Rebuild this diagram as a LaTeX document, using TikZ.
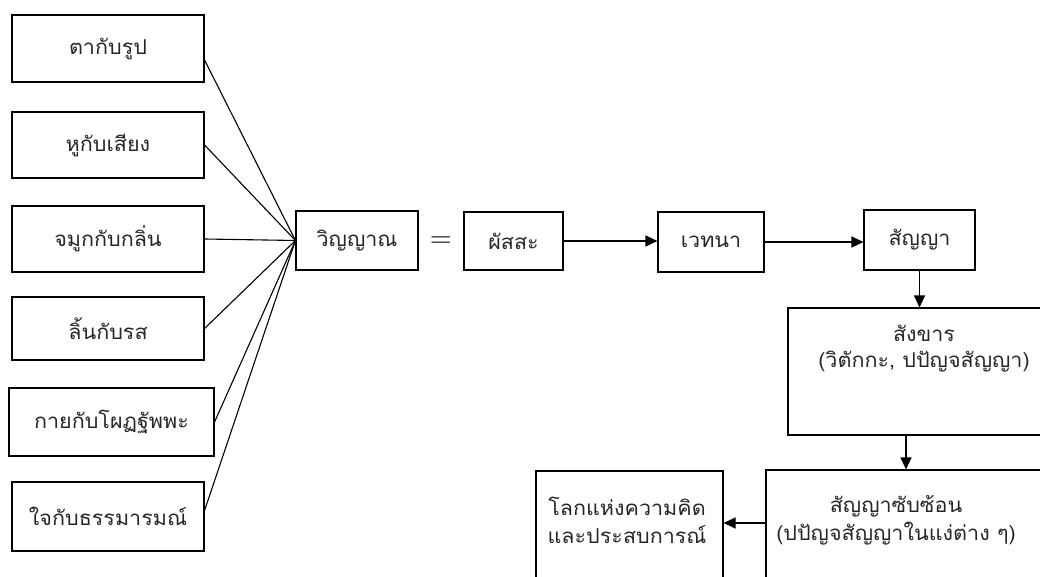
\documentclass[tikz,border=0pt]{standalone}
\usepackage{fontspec}
\newfontfamily\thaifont[Script=Thai,FakeStretch=1.05]{Loma}
\usetikzlibrary{arrows.meta,calc}
\begin{document}
\begin{tikzpicture}[x=1pt,y=-1pt,
  box/.style={draw, line width=1.1pt, inner sep=0pt},
  lbl/.style={font=\thaifont\fontsize{20.5}{28}\selectfont, text=black!85, align=center, inner sep=0pt},
  link/.style={line width=1.1pt},
  arr/.style={line width=1.1pt, -{Triangle[length=12pt,width=11pt]}}]
\useasboundingbox (0,0) rectangle (1040,577);
\clip (0,0) rectangle (1040,577);
% left boxes
\node[box, minimum width=192, minimum height=67] (b1) at (108,48.5) {};
\node[lbl] (t1) at (b1.center) {ตากับรูป};
\node[box, minimum width=192, minimum height=66] (b2) at (108,145) {};
\node[lbl] (t2) at (b2.center) {หูกับเสียง};
\node[box, minimum width=192, minimum height=66] (b3) at (108,239) {};
\node[lbl] (t3) at (b3.center) {จมูกกับกลิ่น};
\node[box, minimum width=192, minimum height=63] (b4) at (108,328.5) {};
\node[lbl] (t4) at (b4.center) {ลิ้นกับรส};
\node[box, minimum width=205, minimum height=68] (b5) at (111.5,422) {};
\node[lbl] (t5) at (b5.center) {กายกับโผฏฐัพพะ};
\node[box, minimum width=192, minimum height=69] (b6) at (108,516.5) {};
\node[lbl] (t6) at (b6.center) {ใจกับธรรมารมณ์};
% top row
\node[box, minimum width=122, minimum height=59] (v) at (357,240.5) {};
\node[lbl] (vt) at (v.center) {วิญญาณ};
\node[font=\fontsize{30}{30}\selectfont, inner sep=0pt] (eq) at (441,242) {=};
\node[box, minimum width=99, minimum height=58] (ph) at (513.5,241) {};
\node[lbl] (pht) at (ph.center) {ผัสสะ};
\node[box, minimum width=106, minimum height=60] (ve) at (711,242) {};
\node[lbl] (vet) at (ve.center) {เวทนา};
\node[box, minimum width=111, minimum height=60] (sa) at (919.5,240) {};
\node[lbl] (sat) at (sa.center) {สัญญา};
% right column
\node[box, minimum width=262, minimum height=127] (sk) at (919,371.5) {};
\node[lbl, font=\thaifont\fontsize{20.5}{26}\selectfont] (skt) at (924,349) {สังขาร\\(วิตักกะ, ปปัญจสัญญา)};
\node[box, minimum width=284, minimum height=130] (ss) at (908,535) {};
\node[lbl] (sst) at (896,520) {สัญญาซับซ้อน\\(ปปัญจสัญญาในแง่ต่าง ๆ)};
\node[box, minimum width=187, minimum height=129] (lk) at (629.5,535.5) {};
\node[lbl] (lkt) at (627,520) {โลกแห่งความคิด\\และประสบการณ์};
% connectors
\draw[link] ([yshift=-11.5pt]b1.east) -- (v.west);
\draw[link] (b2.east) -- (v.west);
\draw[link] (b3.east) -- (v.west);
\draw[link] (b4.east) -- (v.west);
\draw[link] (b5.east) -- (v.west);
\draw[link] ([yshift=6pt]b6.east) -- (v.west);
\draw[arr] (ph.east) -- (ph.east -| ve.west);
\draw[arr] (ve.east) -- (ve.east -| sa.west);
\draw[arr] (sa.south) -- (sa.south |- sk.north);
\draw[arr] ([xshift=-13pt]sk.south) -- ([xshift=-13pt]sk.south |- ss.north);
\draw[arr] ([yshift=12pt]ss.west) -- ([yshift=12pt]ss.west -| lk.east);
\end{tikzpicture}
\end{document}
